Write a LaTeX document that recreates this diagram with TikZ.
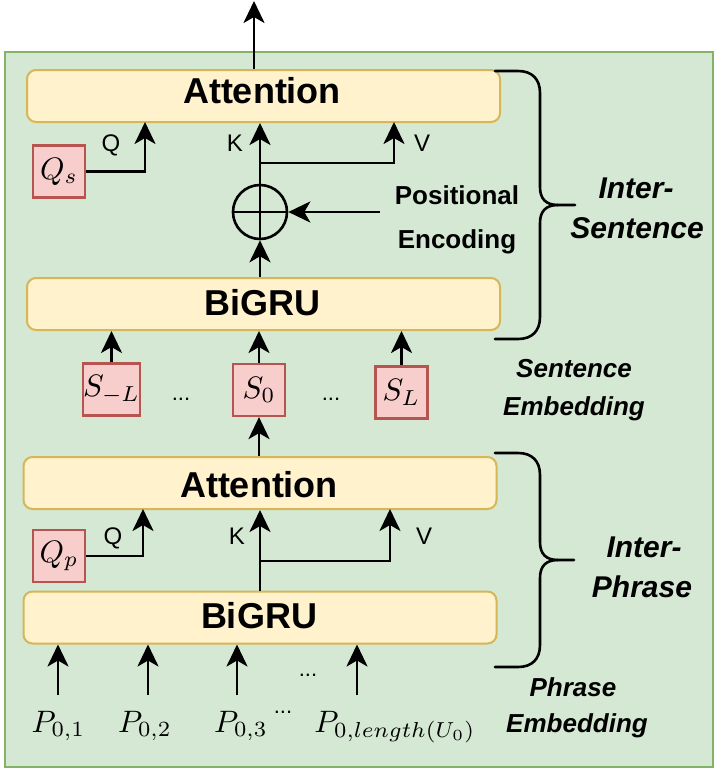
\documentclass[tikz,border=0pt]{standalone}
\usepackage{fontspec}
\newfontfamily\lsans{Liberation Sans}
\usetikzlibrary{arrows.meta}
\definecolor{gfill}{HTML}{D5E8D4}
\definecolor{gdraw}{HTML}{82B366}
\definecolor{yfill}{HTML}{FFF2CC}
\definecolor{ydraw}{HTML}{D6B656}
\definecolor{rfill}{HTML}{F8CECC}
\definecolor{rdraw}{HTML}{B85450}
\newcommand{\mybigmath}[1]{\scalebox{3.1}{$#1$}}
\begin{document}
\begin{tikzpicture}[x=1pt,y=-1pt,
  arr/.style={line width=2.9pt, -{Stealth[length=22pt,width=21pt,inset=6pt]}},
  ybox/.style={draw=ydraw, fill=yfill, line width=2pt, rounded corners=9pt, minimum width=473pt, minimum height=52pt, inner sep=0pt},
  rbox/.style={draw=rdraw, fill=rfill, line width=2.2pt, minimum width=52pt, minimum height=52pt, inner sep=0pt},
  boxtxt/.style={font=\lsans\bfseries\fontsize{36}{40}\selectfont, anchor=base, inner sep=0pt},
  qkv/.style={font=\lsans\fontsize{24}{28}\selectfont, anchor=base, inner sep=0pt},
  side/.style={font=\lsans\bfseries\itshape\fontsize{30}{34}\selectfont, anchor=base, inner sep=0pt},
  emb/.style={font=\lsans\bfseries\itshape\fontsize{26}{30}\selectfont, anchor=base, inner sep=0pt},
  pe/.style={font=\lsans\bfseries\fontsize{26}{30}\selectfont, anchor=base, inner sep=0pt},
  dots/.style={font=\lsans\fontsize{22}{26}\selectfont, anchor=base, inner sep=0pt},
  mlab/.style={anchor=base, inner sep=0pt},
  bracepath/.style={line width=2.6pt, line join=round, line cap=round},
]
\useasboundingbox (0,0) rectangle (718,774);
\fill[white] (0,0) rectangle (718,774);
% frame
\draw[draw=gdraw, fill=gfill, line width=2.8pt] (5,52) rectangle (713,767);

% boxes
\node[ybox] (att1) at (263.5,96) {};
\node[ybox] (bg1) at (263.5,304) {};
\node[ybox] (att2) at (260,483) {};
\node[ybox] (bg2) at (260,617.5) {};
\node[boxtxt] (att1t) at (262,103) {Attention};
\node[boxtxt] (bg1t) at (262.5,315) {BiGRU};
\node[boxtxt] (att2t) at (259,497) {Attention};
\node[boxtxt] (bg2t) at (259,628) {BiGRU};

% red boxes
\node[rbox] (qs) at (59,171.5) {\mybigmath{Q_s}};
\node[rbox] (qp) at (59,556) {\mybigmath{Q_p}};
\node[rbox] (sm) at (111.5,389.5) {\mybigmath{S_{-L}}};
\node[rbox] (s0) at (259,390) {\mybigmath{S_0}};
\node[rbox] (sl) at (401.5,392.5) {\mybigmath{S_L}};

% circle plus
\node[draw, circle, line width=2.6pt, minimum size=54pt, inner sep=0pt] (plus) at (260,212) {};
\draw[line width=2.6pt] (plus.west) -- (plus.east);
\draw[line width=2.6pt] (plus.north) -- (plus.south);

% top output
\coordinate (out) at (254,1);
\draw[arr] (att1.north -| out) -- (out);

% upper attention inputs
\coordinate (qin1) at (145,122);
\draw[arr] (qs.east) -| (qin1);
\draw[arr] (plus.north) -- (plus.north |- att1.south);
\coordinate (vb1) at (260,163);
\coordinate (vin1) at (394,122);
\draw[arr] (vb1) -| (vin1);
\coordinate (pes) at (380,212);
\draw[arr] (pes) -- (plus.east);
\draw[arr] (plus.south |- bg1.north) -- (plus.south);

\node[qkv] (q1l) at (111,151) {Q};
\node[qkv] (k1l) at (235,151) {K};
\node[qkv] (v1l) at (422,151) {V};

\node[pe] (pos) at (457,204) {Positional};
\node[pe] (enc) at (457,248) {Encoding};

% sentence embeddings
\draw[arr] (sm.north) -- (sm.north |- bg1.south);
\draw[arr] (s0.north) -- (s0.north |- bg1.south);
\draw[arr] (sl.north) -- (sl.north |- bg1.south);
\node[dots] (d1) at (181,400) {...};
\node[dots] (d2) at (331,400) {...};
\draw[arr] (s0.south |- att2.north) -- (s0.south);

% lower attention inputs
\coordinate (qin2) at (143,509);
\draw[arr] (qp.east) -| (qin2);
\draw[arr] (bg2.north) -- (bg2.north |- att2.south);
\coordinate (vb2) at (260,561);
\coordinate (vin2) at (390,509);
\draw[arr] (vb2) -| (vin2);
\node[qkv] (q2l) at (113,544) {Q};
\node[qkv] (k2l) at (237,544) {K};
\node[qkv] (v2l) at (424,544) {V};

% phrase inputs
\coordinate (pa1) at (58,695);
\coordinate (pa2) at (148,695);
\coordinate (pa3) at (237,695);
\coordinate (pa4) at (357,695);
\draw[arr] (pa1) -- (pa1 |- bg2.south);
\draw[arr] (pa2) -- (pa2 |- bg2.south);
\draw[arr] (pa3) -- (pa3 |- bg2.south);
\draw[arr] (pa4) -- (pa4 |- bg2.south);
\node[mlab] (p1) at (58.5,732) {\mybigmath{P_{0,1}}};
\node[mlab] (p2) at (145,732) {\mybigmath{P_{0,2}}};
\node[mlab] (p3) at (241,732) {\mybigmath{P_{0,3}}};
\node[mlab] (p4) at (395,732) {\mybigmath{P_{0,length(U_0)}}};
\node[dots] (d3) at (308,676) {...};
\node[dots] (d4) at (283,713) {...};

% braces
\draw[bracepath] (495,71) -- (518,71) .. controls (532,71) and (540,79) .. (540,93) -- (540,187) .. controls (540,199) and (546,205) .. (558,205) -- (575,205);
\draw[bracepath] (558,205) .. controls (546,205) and (540,211) .. (540,223) -- (540,317) .. controls (540,331) and (532,339) .. (518,339) -- (495,339);
\draw[bracepath] (495,453) -- (518,453) .. controls (532,453) and (540,461) .. (540,475) -- (540,542) .. controls (540,554) and (546,560) .. (558,560) -- (574,560);
\draw[bracepath] (558,560) .. controls (546,560) and (540,566) .. (540,578) -- (540,645) .. controls (540,659) and (532,667) .. (518,667) -- (495,667);

% side labels
\node[side] (is1) at (636,198) {Inter-};
\node[side] (is2) at (637,238) {Sentence};
\node[side] (ip1) at (644,557) {Inter-};
\node[side] (ip2) at (642,597) {Phrase};
\node[emb] (se1) at (574,377) {Sentence};
\node[emb] (se2) at (574,415) {Embedding};
\node[emb] (pe1) at (573,696) {Phrase};
\node[emb] (pe2) at (577,732) {Embedding};
\end{tikzpicture}
\end{document}
